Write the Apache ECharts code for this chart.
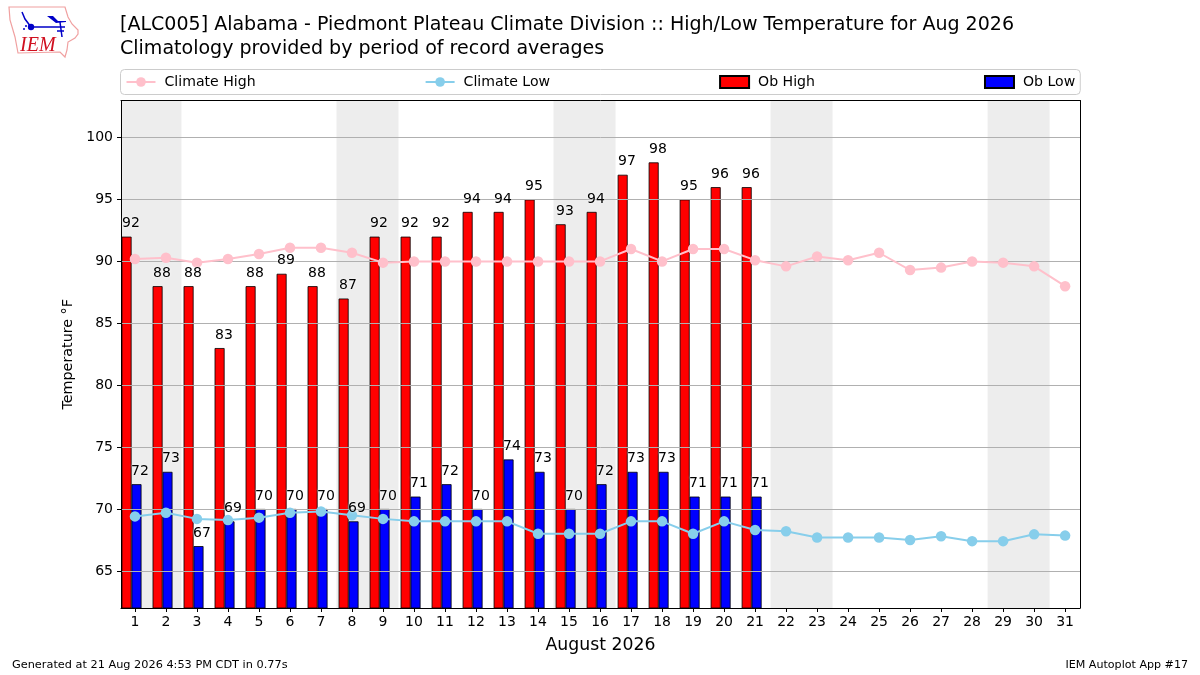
<!DOCTYPE html>
<html>
<head>
<meta charset="utf-8">
<style>html,body{margin:0;padding:0;background:#fff}#c{width:1200px;height:675px}</style>
<script src="https://cdn.jsdelivr.net/npm/echarts@6/dist/echarts.min.js"></script>
</head>
<body>
<div id="c"></div>
<script>
const days = Array.from({length:31},(_, i)=>i+1);
const yTicks = [65,70,75,80,85,90,95,100];
const obHigh = [92,88,88,83,88,89,88,87,92,92,92,94,94,95,93,94,97,98,95,96,96];
const obLow = [72,73,67,69,70,70,70,69,70,71,72,70,74,73,70,72,73,73,71,71,71];
const climateHigh = [90.2,90.3,89.9,90.2,90.6,91.1,91.1,90.7,89.9,90,90,90,90,90,90,90,91,90,91,91,90.1,89.6,90.4,90.1,90.7,89.3,89.5,90,89.9,89.6,88];
const climateLow = [69.4,69.7,69.2,69.1,69.3,69.7,69.8,69.5,69.2,69,69,69,69,68,68,68,69,69,68,69,68.3,68.2,67.7,67.7,67.7,67.5,67.8,67.4,67.4,67.95,67.85];
const weekendBands = [[0.5,2.5],[7.5,9.5],[14.5,16.5],[21.5,23.5],[28.5,30.5]];
const FONT = '"DejaVu Sans"';
const X_MIN = 0.55, X_MAX = 31.48, Y_MIN = 62, Y_MAX = 103;

const chart = echarts.init(document.getElementById('c'), null, {renderer:'canvas'});
const dataLabel = {
  show:true, position:'top', distance:6, color:'#000', fontFamily:FONT, fontSize:14,
  textShadowColor:'#fff', textShadowBlur:3,
  formatter:p=>String(p.value[1])
};
chart.setOption({
  animation:false,
  backgroundColor:'#fff',
  textStyle:{fontFamily:FONT},
  title:[
    {text:'[ALC005] Alabama - Piedmont Plateau Climate Division :: High/Low Temperature for Aug 2026\nClimatology provided by period of record averages',
     left:120, top:13.5, padding:0, textStyle:{fontFamily:FONT,fontSize:19.05,fontWeight:'normal',color:'#000',lineHeight:24}},
    {text:'Generated at 21 Aug 2026 4:53 PM CDT in 0.77s', left:12, top:660, padding:0, textStyle:{fontFamily:FONT,fontSize:11.3,fontWeight:'normal',color:'#000'}},
    {text:'IEM Autoplot App #17', right:12, top:660, padding:0, textStyle:{fontFamily:FONT,fontSize:11.1,fontWeight:'normal',color:'#000'}}
  ],
  legend:{
    left:120.5, top:69.5, orient:'horizontal', padding:[5.5,5,5.5,5],
    itemWidth:29, itemHeight:12, itemGap:169,
    borderColor:'#cccccc', borderWidth:1, borderRadius:4, backgroundColor:'#fff',
    textStyle:{fontFamily:FONT,fontSize:14.1,color:'#000',padding:[0,0,0,4]},
    data:[{name:'Climate High'},{name:'Climate Low'},{name:'Ob High',icon:'rect'},{name:'Ob Low',icon:'rect'}]
  },
  grid:{left:121, top:100.5, width:959, height:507.5, show:false},
  xAxis:[{
    type:'value', min:X_MIN, max:X_MAX, z:3,
    name:'August 2026', nameLocation:'middle', nameGap:29,
    nameTextStyle:{fontFamily:FONT,fontSize:17.3,color:'#000'},
    axisLine:{show:true,lineStyle:{color:'#000'}},
    axisTick:{show:true,length:4,lineStyle:{color:'#000'},customValues:days},
    axisLabel:{color:'#000',fontFamily:FONT,fontSize:14,margin:7,customValues:days,formatter:v=>String(v)},
    splitLine:{show:false}
  },{
    type:'value', min:X_MIN, max:X_MAX, z:3, position:'top',
    axisLine:{show:true,lineStyle:{color:'#000'}}, axisTick:{show:false}, axisLabel:{show:false}, splitLine:{show:false}
  }],
  yAxis:[{
    type:'value', min:Y_MIN, max:Y_MAX, z:3,
    name:'Temperature °F', nameLocation:'middle', nameGap:36,
    nameTextStyle:{fontFamily:FONT,fontSize:14.3,color:'#000'},
    axisLine:{show:true,lineStyle:{color:'#000'}},
    axisTick:{show:true,length:4,lineStyle:{color:'#000'},customValues:yTicks},
    axisLabel:{color:'#000',fontFamily:FONT,fontSize:14,margin:8,customValues:yTicks,formatter:v=>String(v)},
    splitLine:{show:true,lineStyle:{color:'#b0b0b0',width:1},customValues:yTicks}
  },{
    type:'value', min:Y_MIN, max:Y_MAX, z:3, position:'right',
    axisLine:{show:true,lineStyle:{color:'#000'}}, axisTick:{show:false}, axisLabel:{show:false}, splitLine:{show:false}
  }],
  series:[
    {type:'custom', name:'Weekend', z:1, silent:true, data:weekendBands, encode:{x:[0,1]},
     renderItem:(params,api)=>{
       const a=api.coord([api.value(0),Y_MAX]), b=api.coord([api.value(1),Y_MIN]);
       const r=echarts.graphic.clipRectByRect({x:a[0],y:a[1],width:b[0]-a[0],height:b[1]-a[1]},
         {x:params.coordSys.x,y:params.coordSys.y,width:params.coordSys.width,height:params.coordSys.height});
       return r?{type:'rect',shape:r,style:{fill:'#ededed'}}:null;
     }},
    {type:'bar', name:'Ob High', z:2, barWidth:10, barGap:'-100%',
     itemStyle:{color:'#ff0000',borderColor:'#000',borderWidth:0.8},
     data:obHigh.map((v,i)=>[days[i]-0.27,v])},
    {type:'bar', name:'Ob Low', z:2, barWidth:10, barGap:'-100%',
     itemStyle:{color:'#0000ff',borderColor:'#000',borderWidth:0.8},
     data:obLow.map((v,i)=>[days[i]+0.05,v])},
    {type:'line', name:'Climate High', z:4, symbol:'circle', symbolSize:10.5,
     lineStyle:{color:'#ffc0cb',width:2}, itemStyle:{color:'#ffc0cb'},
     data:climateHigh.map((v,i)=>[days[i],v])},
    {type:'line', name:'Climate Low', z:4, symbol:'circle', symbolSize:10.5,
     lineStyle:{color:'#87ceeb',width:2}, itemStyle:{color:'#87ceeb'},
     data:climateLow.map((v,i)=>[days[i],v])},
    {type:'scatter', name:'High labels', z:5, symbolSize:0, silent:true, itemStyle:{opacity:1}, label:dataLabel,
     data:obHigh.map((v,i)=>[days[i]-0.13,v])},
    {type:'scatter', name:'Low labels', z:5, symbolSize:0, silent:true, itemStyle:{opacity:1}, label:dataLabel,
     data:obLow.map((v,i)=>[days[i]+0.16,v])}
  ],
  graphic:[
    {type:'polygon', silent:true, shape:{points:[[9,7],[65,7],[68,17],[72,24],[78,30],[78,34],[75,38],[68,42],[67,50],[65,57],[60,52],[18,53],[15,37],[10,20]]},
     style:{fill:'#fff',stroke:'#f0a0a0',lineWidth:1.2}},
    {type:'polyline', silent:true, shape:{points:[[22,12],[25,19],[31,27],[65,27]]}, style:{fill:'none',stroke:'#0000c8',lineWidth:1.5}},
    {type:'polygon', silent:true, shape:{points:[[47,16],[53,16],[58,21],[66,21],[66,22],[56,23]]}, style:{fill:'#0000c8'}},
    {type:'polyline', silent:true, shape:{points:[[60,22],[62,37]]}, style:{fill:'none',stroke:'#0000c8',lineWidth:1.5}},
    {type:'polyline', silent:true, shape:{points:[[57,31],[64,31]]}, style:{fill:'none',stroke:'#0000c8',lineWidth:1.5}},
    {type:'circle', silent:true, shape:{cx:31,cy:27,r:3.2}, style:{fill:'#0000c8'}},
    {type:'circle', silent:true, shape:{cx:24,cy:29,r:1}, style:{fill:'#0000c8'}},
    {type:'circle', silent:true, shape:{cx:26,cy:26,r:1}, style:{fill:'#0000c8'}},
    {type:'text', silent:true, left:20, top:36, style:{text:'IEM',fill:'#d01020',font:'italic 20px "Liberation Serif"'}}
  ]
});
</script>
</body>
</html>
